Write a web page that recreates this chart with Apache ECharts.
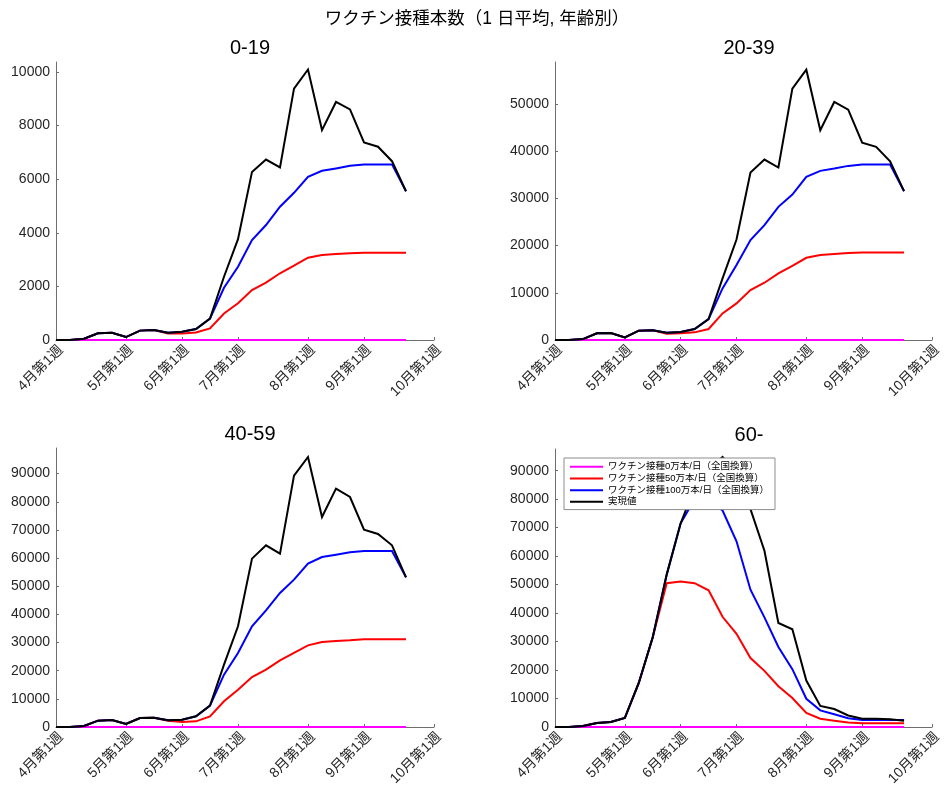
<!DOCTYPE html>
<html>
<head>
<meta charset="utf-8">
<script src="https://cdn.jsdelivr.net/npm/echarts@6/dist/echarts.min.js"></script>
<style>
  html, body { margin: 0; padding: 0; background: #fff; }
  #chart { width: 944px; height: 792px; }
</style>
</head>
<body>
<div id="chart"></div>
<script>
// Week index of each weekly average (0 = 4月第1週)
const weeks = [0, 1, 2, 3, 4, 5, 6, 7, 8, 9, 10, 11, 12, 13, 14, 15, 16, 17, 18, 19, 20, 21, 22, 23, 24, 25];

// x-axis ticks: week index and its label
const tickWeeks = [0, 5, 9, 13, 18, 22, 27];
const tickLabels = ['4月第1週', '5月第1週', '6月第1週', '7月第1週', '8月第1週', '9月第1週', '10月第1週'];

const seriesNames = [
  'ワクチン接種0万本/日（全国換算）',
  'ワクチン接種50万本/日（全国換算）',
  'ワクチン接種100万本/日（全国換算）',
  '実現値'
];
const seriesColors = ['#ff00ff', '#ff0000', '#0000ff', '#000000'];

const groupTitles = ['0-19', '20-39', '40-59', '60-'];

// 0-19
const zero_0_19   = [0, 0, 0, 0, 0, 0, 0, 0, 0, 0, 0, 0, 0, 0, 0, 0, 0, 0, 0, 0, 0, 0, 0, 0, 0, 0];
const m50_0_19    = [0, 0, 50, 250, 270, 110, 350, 370, 240, 240, 280, 430, 990, 1370, 1860, 2140, 2490, 2770, 3070, 3170, 3210, 3240, 3255, 3255, 3255, 3255];
const m100_0_19   = [0, 0, 50, 250, 270, 110, 350, 370, 270, 310, 410, 800, 1950, 2730, 3730, 4290, 4970, 5490, 6090, 6310, 6400, 6500, 6550, 6550, 6550, 5550];
const actual_0_19 = [0, 0, 50, 250, 270, 110, 350, 370, 270, 310, 410, 800, 2360, 3760, 6270, 6730, 6440, 9380, 10090, 7830, 8880, 8600, 7370, 7210, 6670, 5550];

// 20-39
const zero_20_39   = [0, 0, 0, 0, 0, 0, 0, 0, 0, 0, 0, 0, 0, 0, 0, 0, 0, 0, 0, 0, 0, 0, 0, 0, 0, 0];
const m50_20_39    = [0, 0, 200, 1410, 1480, 560, 1970, 2040, 1300, 1410, 1620, 2330, 5640, 7760, 10580, 12130, 14110, 15730, 17420, 17990, 18200, 18410, 18550, 18550, 18550, 18550];
const m100_20_39   = [0, 0, 200, 1410, 1480, 560, 1970, 2040, 1550, 1720, 2330, 4440, 10930, 15870, 21160, 24330, 28210, 30820, 34560, 35830, 36320, 36890, 37170, 37170, 37170, 31530];
const actual_20_39 = [0, 0, 200, 1410, 1480, 560, 1970, 2040, 1550, 1720, 2330, 4440, 13050, 21300, 35480, 38230, 36540, 53250, 57270, 44430, 50430, 48810, 41820, 40910, 37880, 31530];

// 40-59
const zero_40_59   = [0, 0, 0, 0, 0, 0, 0, 0, 0, 0, 0, 0, 0, 0, 0, 0, 0, 0, 0, 0, 0, 0, 0, 0, 0, 0];
const m50_40_59    = [0, 0, 350, 2250, 2490, 1070, 3200, 3320, 2200, 1800, 2010, 3790, 9120, 13260, 17760, 20370, 23680, 26290, 29000, 30190, 30550, 30780, 31140, 31140, 31140, 31140];
const m100_40_59   = [0, 0, 350, 2250, 2490, 1070, 3200, 3320, 2370, 2600, 3790, 7580, 18590, 26290, 35760, 41440, 47600, 52330, 58020, 60380, 61210, 62040, 62520, 62520, 62520, 53160];
const actual_40_59 = [0, 0, 350, 2250, 2490, 1070, 3200, 3320, 2370, 2600, 3790, 7580, 22140, 35760, 59800, 64530, 61570, 89270, 95900, 74600, 84660, 81700, 70100, 68550, 64530, 53160];

// 60-
const zero_60   = [0, 0, 0, 0, 0, 0, 0, 0, 0, 0, 0, 0, 0, 0, 0, 0, 0, 0, 0, 0, 0, 0, 0, 0, 0, 0];
const m50_60    = [0, 0, 350, 1400, 1760, 3160, 15460, 31500, 50500, 51100, 50500, 48000, 38700, 32700, 24200, 19700, 14300, 10200, 4920, 2880, 2220, 1550, 1350, 1350, 1350, 1350];
const m100_60   = [0, 0, 350, 1400, 1760, 3160, 15460, 31500, 53500, 71500, 80000, 79500, 76000, 65200, 48200, 38500, 28100, 20300, 9900, 5850, 4450, 3050, 2450, 2450, 2450, 2450];
const actual_60 = [0, 0, 350, 1400, 1760, 3160, 15460, 31500, 53500, 71500, 84000, 90500, 94800, 89000, 76500, 61900, 36500, 34300, 16300, 7400, 6320, 4050, 2870, 2870, 2750, 2220];

// y-axis ticks per panel
const yTicks_0_19  = [0, 2000, 4000, 6000, 8000, 10000];
const yTicks_20_39 = [0, 10000, 20000, 30000, 40000, 50000];
const yTicks_40_59 = [0, 10000, 20000, 30000, 40000, 50000, 60000, 70000, 80000, 90000];
const yTicks_60    = [0, 10000, 20000, 30000, 40000, 50000, 60000, 70000, 80000, 90000];

const panels = [
  { title: groupTitles[0], lines: [zero_0_19, m50_0_19, m100_0_19, actual_0_19], yTicks: yTicks_0_19, yMax: 10370,
    grid: { left: 56, top: 62, width: 378, height: 278 } },
  { title: groupTitles[1], lines: [zero_20_39, m50_20_39, m100_20_39, actual_20_39], yTicks: yTicks_20_39, yMax: 58900,
    grid: { left: 555, top: 62, width: 378, height: 278 } },
  { title: groupTitles[2], lines: [zero_40_59, m50_40_59, m100_40_59, actual_40_59], yTicks: yTicks_40_59, yMax: 99100,
    grid: { left: 56, top: 448, width: 378, height: 279 } },
  { title: groupTitles[3], lines: [zero_60, m50_60, m100_60, actual_60], yTicks: yTicks_60, yMax: 97600,
    grid: { left: 555, top: 449, width: 378, height: 278 } }
];

const FONT = "'Liberation Sans', 'Noto Sans CJK JP', sans-serif";
const INK = '#262626';
const AXIS = '#6e6e6e';

const titles = [{
  text: 'ワクチン接種本数（1 日平均, 年齢別）',
  left: 472, top: 5, textAlign: 'center',
  textStyle: { fontFamily: FONT, fontSize: 17.5, fontWeight: 'normal', color: '#000' }
}];
const grids = [], xAxes = [], yAxes = [], series = [];

panels.forEach((p, i) => {
  grids.push(p.grid);
  titles.push({
    text: p.title,
    left: p.grid.left + p.grid.width / 2,
    top: p.grid.top - 29,
    textAlign: 'center',
    textStyle: { fontFamily: FONT, fontSize: 20, fontWeight: 'normal', color: '#000' }
  });
  xAxes.push({
    gridIndex: i, type: 'value', min: 0, max: 27,
    axisLine: { show: true, lineStyle: { color: AXIS, width: 1 } },
    axisTick: { show: true, inside: true, length: 3, customValues: tickWeeks, lineStyle: { color: AXIS } },
    axisLabel: {
      customValues: tickWeeks, rotate: 45, margin: 3,
      align: 'right', verticalAlign: 'top',
      fontFamily: FONT, fontSize: 14, color: INK,
      formatter: v => tickLabels[tickWeeks.indexOf(v)]
    },
    splitLine: { show: false }
  });
  yAxes.push({
    gridIndex: i, type: 'value', min: 0, max: p.yMax,
    axisLine: { show: true, lineStyle: { color: AXIS, width: 1 } },
    axisTick: { show: true, inside: true, length: 3, customValues: p.yTicks, lineStyle: { color: AXIS } },
    axisLabel: {
      customValues: p.yTicks, margin: 6,
      fontFamily: FONT, fontSize: 14, color: INK,
      formatter: v => String(v)
    },
    splitLine: { show: false }
  });
  p.lines.forEach((vals, k) => {
    series.push({
      name: seriesNames[k],
      type: 'line',
      xAxisIndex: i, yAxisIndex: i,
      data: weeks.map((w, j) => [w, vals[j]]),
      symbol: 'none',
      smooth: false,
      silent: true,
      lineStyle: { color: seriesColors[k], width: 2, join: 'miter' },
      itemStyle: { color: seriesColors[k] }
    });
  });
});

const chart = echarts.init(document.getElementById('chart'), null, { renderer: 'canvas' });
chart.setOption({
  animation: false,
  backgroundColor: '#fff',
  title: titles,
  grid: grids,
  xAxis: xAxes,
  yAxis: yAxes,
  legend: {
    data: seriesNames,
    orient: 'vertical',
    left: 564, top: 458,
    padding: [4, 6, 3, 5],
    itemGap: 2.2,
    itemWidth: 33, itemHeight: 10,
    itemStyle: { opacity: 0 },
    backgroundColor: '#fff',
    borderColor: '#8c8c8c', borderWidth: 1,
    textStyle: { fontFamily: FONT, fontSize: 9.5, color: '#000' },
    selectedMode: false
  },
  series: series
});
</script>
</body>
</html>
